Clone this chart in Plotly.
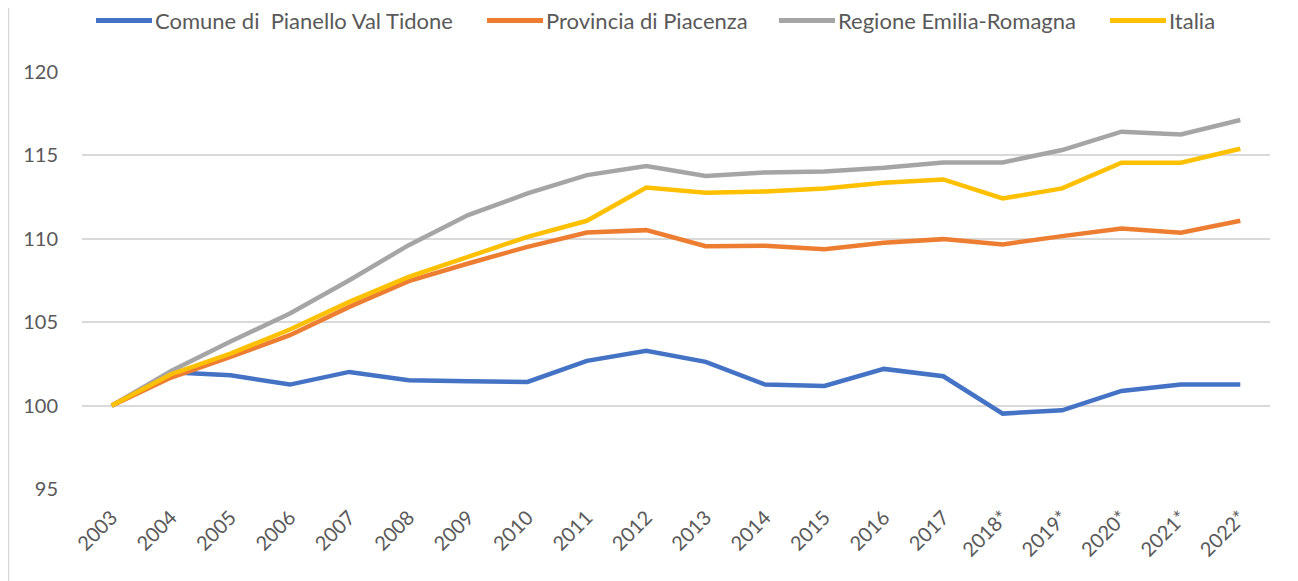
import plotly.graph_objects as go

years = ["2003", "2004", "2005", "2006", "2007", "2008", "2009", "2010", "2011", "2012",
         "2013", "2014", "2015", "2016", "2017", "2018*", "2019*", "2020*", "2021*", "2022*"]

comune = [100.0, 102.0, 101.82, 101.26, 102.02, 101.52, 101.46, 101.42, 102.68, 103.28,
          102.62, 101.26, 101.18, 102.2, 101.76, 99.52, 99.72, 100.88, 101.26, 101.26]
provincia = [100.0, 101.68, 102.92, 104.22, 105.92, 107.46, 108.52, 109.52, 110.38, 110.52,
             109.56, 109.58, 109.38, 109.76, 109.98, 109.66, 110.16, 110.62, 110.36, 111.08]
regione = [100.0, 102.08, 103.84, 105.52, 107.52, 109.62, 111.42, 112.72, 113.82, 114.36,
           113.76, 113.98, 114.04, 114.26, 114.58, 114.58, 115.32, 116.42, 116.26, 117.12]
italia = [100.0, 101.88, 103.12, 104.56, 106.22, 107.72, 108.92, 110.12, 111.08, 113.08,
          112.76, 112.84, 113.02, 113.36, 113.56, 112.42, 113.02, 114.56, 114.56, 115.4]

series_names = ["Comune di\u00a0 Pianello Val Tidone", "Provincia di Piacenza",
                "Regione Emilia-Romagna", "Italia"]
series_values = [comune, provincia, regione, italia]
colors = ["#4472C4", "#ED7D31", "#A5A5A5", "#FFC000"]

y_ticks = [95, 100, 105, 110, 115, 120]

FONT = "Lato"
TXT = "#595959"

# the page body adds an 8px offset; all page coordinates below are compensated
OFF = 8
W, H = 1298 - OFF, 581 - OFF
ml, mr, mt, mb = 82 - OFF, 28, 72 - OFF, 92
PW, PH = W - ml - mr, H - mt - mb


def px_x(p):
    # p is a page x coordinate
    return (p - OFF - ml) / PW


def px_y(p):
    # p is a page y coordinate
    return 1 - (p - OFF - mt) / PH


fig = go.Figure()
for name, vals, col in zip(series_names, series_values, colors):
    fig.add_trace(go.Scatter(x=years, y=vals, name=name, mode="lines",
                             line=dict(color=col, width=4.5), showlegend=False))

fig.update_layout(
    width=W, height=H,
    margin=dict(l=ml, r=mr, t=mt, b=mb, autoexpand=False),
    paper_bgcolor="white", plot_bgcolor="white",
    font=dict(family=FONT, color=TXT, size=20),
    showlegend=False,
    xaxis=dict(type="category", tickangle=-45, showgrid=False, zeroline=False,
               showline=False, ticks="", automargin=False,
               tickfont=dict(family=FONT, size=20, color=TXT),
               ticklabelstandoff=12,
               range=[-0.5, len(years) - 0.5]),
    yaxis=dict(range=[95, 120], tickvals=y_ticks, showgrid=True, gridcolor="#D9D9D9",
               gridwidth=1.5, zeroline=False, showline=False, ticks="", automargin=False,
               tickfont=dict(family=FONT, size=20, color=TXT),
               ticklabelstandoff=23),
)

# legend drawn as line samples + text labels at the top (page coordinates)
legend_line_x = [96, 487, 779, 1110]
LEG_Y = 20.5
for name, col, lx in zip(series_names, colors, legend_line_x):
    fig.add_shape(type="line", xref="paper", yref="paper",
                  x0=px_x(lx), x1=px_x(lx + 56), y0=px_y(LEG_Y), y1=px_y(LEG_Y),
                  line=dict(color=col, width=5))
    fig.add_annotation(xref="paper", yref="paper", x=px_x(lx + 57), y=px_y(LEG_Y),
                       xanchor="left", yanchor="middle", text=name, showarrow=False,
                       font=dict(family=FONT, size=22, color=TXT))

# outer chart border on the left edge
fig.add_shape(type="line", xref="paper", yref="paper",
              x0=px_x(8.5), x1=px_x(8.5), y0=px_y(581), y1=px_y(OFF),
              line=dict(color="#D9D9D9", width=1.5))

fig.write_html("out.html")
